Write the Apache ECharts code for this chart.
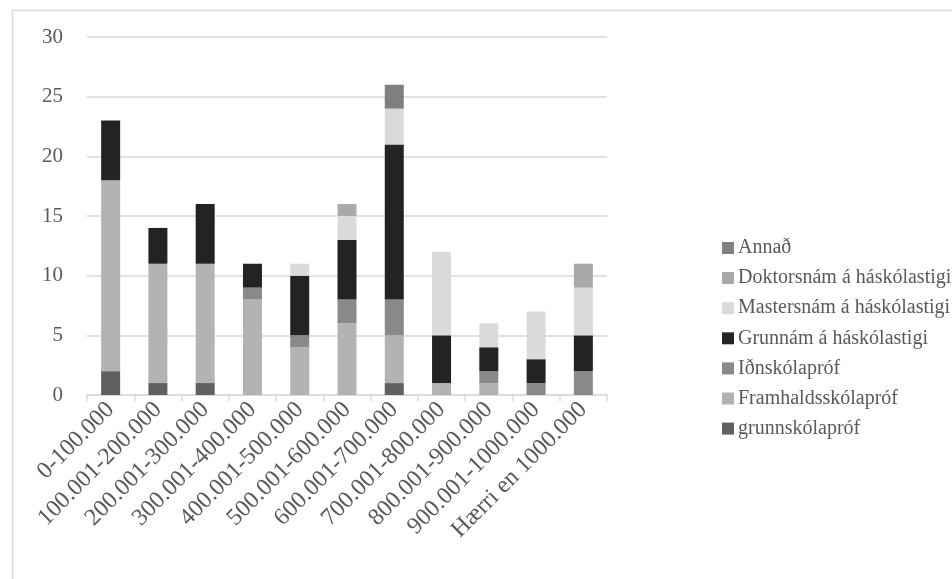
<!DOCTYPE html>
<html>
<head>
<meta charset="utf-8">
<script src="https://cdn.jsdelivr.net/npm/echarts@6/dist/echarts.min.js"></script>
<style>
  html, body { margin: 0; padding: 0; background: #fff; }
  #chart { width: 952px; height: 579px; }
</style>
</head>
<body>
<div id="chart"></div>
<script>
// Income brackets (ISK) on the category axis
const categories = [
  '0-100.000', '100.001-200.000', '200.001-300.000', '300.001-400.000',
  '400.001-500.000', '500.001-600.000', '600.001-700.000', '700.001-800.000',
  '800.001-900.000', '900.001-1000.000', 'Hærri en 1000.000'
];

// Count of respondents per education level, bottom of the stack first
const grunnskolaprof     = [2, 1, 1, 0, 0, 0, 1, 0, 0, 0, 0];
const framhaldsskolaprof = [16, 10, 10, 8, 4, 6, 4, 1, 1, 0, 0];
const idnskolaprof       = [0, 0, 0, 1, 1, 2, 3, 0, 1, 1, 2];
const grunnnam           = [5, 3, 5, 2, 5, 5, 13, 4, 2, 2, 3];
const mastersnam         = [0, 0, 0, 0, 1, 2, 3, 7, 2, 4, 4];
const doktorsnam         = [0, 0, 0, 0, 0, 1, 0, 0, 0, 0, 2];
const annad              = [0, 0, 0, 0, 0, 0, 2, 0, 0, 0, 0];

const yTicks = [0, 5, 10, 15, 20, 25, 30];

const seriesDefs = [
  { name: 'grunnskólapróf', data: grunnskolaprof, color: '#606060' },
  { name: 'Framhaldsskólapróf', data: framhaldsskolaprof, color: '#b3b3b3' },
  { name: 'Iðnskólapróf', data: idnskolaprof, color: '#898989' },
  { name: 'Grunnám á háskólastigi', data: grunnnam, color: '#232323' },
  { name: 'Mastersnám á háskólastigi', data: mastersnam, color: '#dadada' },
  { name: 'Doktorsnám á háskólastigi', data: doktorsnam, color: '#a9a9a9' },
  { name: 'Annað', data: annad, color: '#7f7f7f' }
];

const FONT = '"Liberation Serif", "DejaVu Serif", serif';
const TEXT = '#595959';
const GRID = '#d9d9d9';

const chart = echarts.init(document.getElementById('chart'), null, { renderer: 'canvas' });

chart.setOption({
  animation: false,
  backgroundColor: '#ffffff',
  textStyle: { fontFamily: FONT, color: TEXT },
  graphic: [{
    type: 'rect',
    left: 10, top: 8,
    shape: { width: 1200, height: 1200 },
    style: { fill: 'none', stroke: GRID, lineWidth: 1.5 },
    silent: true
  }],
  grid: { left: 87, right: 345, top: 37, bottom: 184, containLabel: false },
  legend: {
    orient: 'vertical',
    left: 717,
    top: 233,
    itemWidth: 12,
    itemHeight: 12,
    itemGap: 10.1,
    icon: 'rect',
    selectedMode: false,
    textStyle: { fontFamily: FONT, fontSize: 20, lineHeight: 18, color: TEXT, padding: [0, 0, 0, -1] },
    data: seriesDefs.map(s => s.name).reverse()
  },
  xAxis: {
    type: 'category',
    data: categories,
    boundaryGap: true,
    axisLine: { show: true, lineStyle: { color: GRID, width: 1.5 } },
    axisTick: { show: true, length: 6, alignWithLabel: false, lineStyle: { color: GRID, width: 1.5 } },
    axisLabel: {
      interval: 0,
      rotate: 45,
      margin: 11,
      fontFamily: FONT,
      fontSize: 24,
      color: TEXT
    }
  },
  yAxis: {
    type: 'value',
    min: yTicks[0],
    max: yTicks[yTicks.length - 1],
    interval: yTicks[1] - yTicks[0],
    axisLine: { show: false },
    axisTick: { show: false },
    splitLine: { show: true, lineStyle: { color: GRID, width: 1.5 } },
    axisLabel: { fontFamily: FONT, fontSize: 21, color: TEXT, margin: 24 }
  },
  series: seriesDefs.map(s => ({
    name: s.name,
    type: 'bar',
    stack: 'total',
    barWidth: 19,
    data: s.data,
    itemStyle: { color: s.color },
    emphasis: { disabled: true }
  }))
});
</script>
</body>
</html>
